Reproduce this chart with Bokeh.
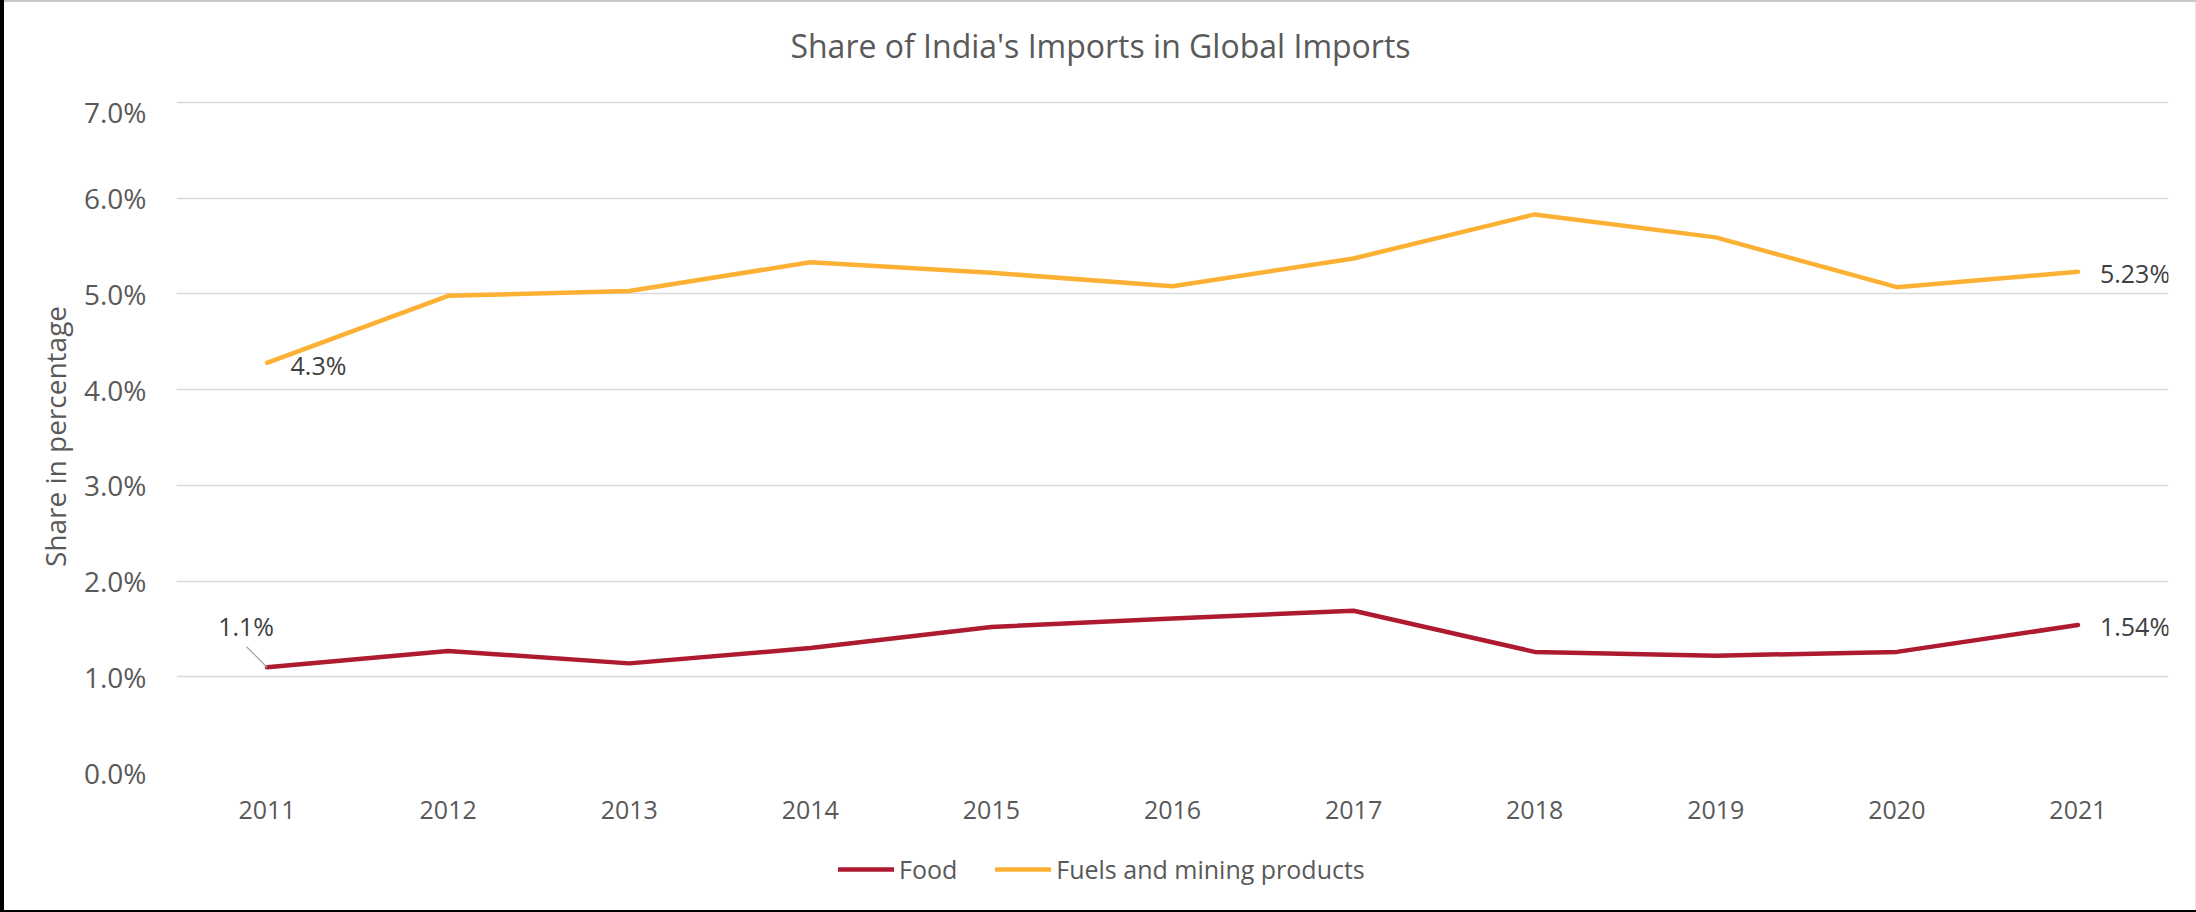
from bokeh.plotting import figure
from bokeh.layouts import column
from bokeh.models import (Range1d, FixedTicker, PrintfTickFormatter, Label,
                          Legend, LegendItem, ColumnDataSource)
from bokeh.embed import file_html
from bokeh.resources import INLINE
from bokeh.core.properties import value

# ---- data ----
years = [2011, 2012, 2013, 2014, 2015, 2016, 2017, 2018, 2019, 2020, 2021]
food = [1.10, 1.27, 1.14, 1.30, 1.52, 1.61, 1.69, 1.26, 1.22, 1.26, 1.54]
fuels = [4.28, 4.98, 5.03, 5.33, 5.22, 5.08, 5.37, 5.83, 5.59, 5.07, 5.23]
y_ticks = [0, 1, 2, 3, 4, 5, 6, 7]
series_names = ["Food", "Fuels and mining products"]
title_text = "Share of India's Imports in Global Imports"
y_title = "Share in percentage"
label_texts = ["4.3%", "1.1%", "5.23%", "1.54%"]

FONT = "Open Sans"
GRAY = "#595959"
DARK = "#404040"
FOOD_C = "#AE1A2F"
FUEL_C = "#FCB034"

W = 2196
TITLE_H = 92
LEG_H = 67
MAIN_H = 912 - TITLE_H - LEG_H
FRAME_L = 176   # frame left edge shared by all strips (column aligns frames)


def strip(height):
    f = figure(width=W, height=height, output_backend="svg", toolbar_location=None,
               x_axis_location=None, y_axis_location=None,
               min_border_left=FRAME_L, min_border_right=28,
               min_border_top=0, min_border_bottom=0,
               x_range=Range1d(0, 1), y_range=Range1d(0, 1))
    f.grid.visible = False
    f.outline_line_color = None
    f.background_fill_alpha = 0
    f.border_fill_alpha = 0
    return f


# ---- title strip ----
t = strip(TITLE_H)
t.add_layout(Label(x=1100 - FRAME_L, y=TITLE_H - 45, x_units="screen", y_units="screen",
                   text=title_text, text_align="center", text_baseline="middle",
                   text_font=FONT, text_font_size="32px", text_color=GRAY))

# ---- main chart ----
p = figure(width=W, height=MAIN_H, output_backend="svg", toolbar_location=None,
           x_range=Range1d(years[0] - 0.5, years[-1] + 0.5),
           y_range=Range1d(y_ticks[0], y_ticks[-1] + 0.02),
           min_border_left=FRAME_L, min_border_right=28,
           min_border_top=8, min_border_bottom=73)
p.outline_line_color = None
p.background_fill_color = "white"
p.border_fill_alpha = 0

p.xgrid.grid_line_color = None
p.ygrid.grid_line_color = "#D9D9D9"
p.ygrid.grid_line_width = 1.5
p.ygrid.ticker = FixedTicker(ticks=y_ticks)

p.xaxis.ticker = FixedTicker(ticks=years)
p.yaxis.ticker = FixedTicker(ticks=y_ticks)
p.yaxis.formatter = PrintfTickFormatter(format="%.1f%%")
for ax in (p.xaxis[0], p.yaxis[0]):
    ax.axis_line_color = None
    ax.major_tick_line_color = None
    ax.minor_tick_line_color = None
    ax.major_tick_out = 0
    ax.major_tick_in = 0
    ax.major_label_text_font = FONT
    ax.major_label_text_color = GRAY
p.yaxis.major_label_text_font_size = "28px"
p.yaxis.major_label_standoff = 30
p.xaxis.major_label_text_font_size = "25px"
p.xaxis.major_label_standoff = 28
p.yaxis.axis_label = y_title
p.yaxis.axis_label_text_font = FONT
p.yaxis.axis_label_text_font_size = "28px"
p.yaxis.axis_label_text_font_style = "normal"
p.yaxis.axis_label_text_color = GRAY
p.yaxis.axis_label_standoff = 7

r_food = p.line(years, food, line_color=FOOD_C, line_width=4.5,
                line_cap="round", line_join="round")
r_fuel = p.line(years, fuels, line_color=FUEL_C, line_width=4.5,
                line_cap="round", line_join="round")

# leader line for the 1.1% label
px_per_x = 1992 / len(years)
px_per_y = 670.1 / (y_ticks[-1] - y_ticks[0])
p.segment(x0=[years[0] - 20.5 / px_per_x], y0=[food[0] + 20.5 / px_per_y],
          x1=[years[0]], y1=[food[0]], line_color="#A6A6A6", line_width=1.2)

src = ColumnDataSource(dict(
    x=[years[0], years[0], years[-1], years[-1]],
    y=[fuels[0], food[0], fuels[-1], food[-1]],
    text=label_texts,
    xo=[23.5, -21, 22, 22],
    yo=[2, -41, 1, 1],
    align=["left", "center", "left", "left"],
))
p.text(x="x", y="y", text="text", x_offset="xo", y_offset="yo",
       text_align="align", text_baseline="middle", source=src,
       text_font=value(FONT), text_font_size="25px", text_color=DARK)

# ---- legend strip (series drawn outside its 0..1 range, only the key shows) ----
lg = strip(LEG_H)
l_food = lg.line(years, food, line_color=FOOD_C, line_width=4.5, line_cap="round")
l_fuel = lg.line(years, fuels, line_color=FUEL_C, line_width=4.5, line_cap="round")
legend = Legend(items=[LegendItem(label=series_names[0], renderers=[l_food]),
                       LegendItem(label=series_names[1], renderers=[l_fuel])],
                orientation="horizontal", location=(838 - FRAME_L, 26),
                padding=0, margin=0, spacing=38, label_standoff=5,
                glyph_width=56, glyph_height=30, label_height=30,
                label_text_font=FONT, label_text_font_size="25px",
                label_text_color=GRAY, border_line_color=None,
                background_fill_alpha=0)
lg.add_layout(legend, "center")

layout = column(t, p, lg, spacing=0,
                styles={"box-shadow": "inset 4px 0 0 #000, inset 0 -2px 0 #000, "
                                      "inset 0 2px 0 #C8C8C8, inset -1px 0 0 #E6E6E6"})

open("out.html", "w").write(file_html(layout, INLINE))
